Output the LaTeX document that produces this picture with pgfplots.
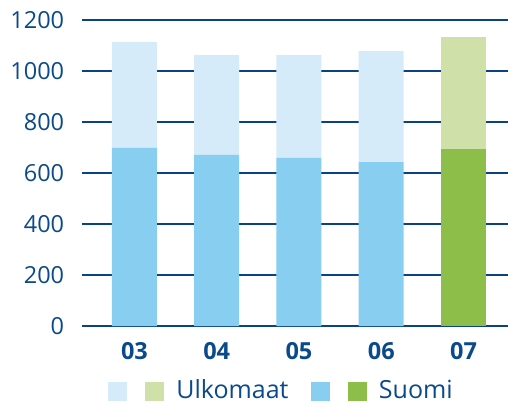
\documentclass[border=0pt]{standalone}
\usepackage{fontspec}
\setmainfont{Open Sans}
\usepackage{pgfplots}
\pgfplotsset{compat=1.18}
\definecolor{navy}{HTML}{0B4A8A}
\definecolor{gridnavy}{HTML}{0A4283}
\definecolor{suomiblue}{HTML}{87CEF0}
\definecolor{ulkoblue}{HTML}{D5EBF9}
\definecolor{suomigreen}{HTML}{8DBE4A}
\definecolor{ulkogreen}{HTML}{CFE0A9}
\begin{document}
\fontsize{23bp}{27bp}\selectfont
\begin{tikzpicture}
\begin{axis}[
  scale only axis, width=426bp, height=306bp,
  ybar stacked, bar width=45bp,
  xmin=-0.638, xmax=4.541, ymin=0, ymax=1200,
  xtick={0,1,2,3,4}, xticklabels={03,04,05,06,07},
  ytick={0,200,...,1200},
  axis line style={draw=none}, major tick length=0pt,
  ymajorgrids, grid style={color=gridnavy, line width=1.1pt},
  /pgf/number format/assume math mode=true,
  /pgf/number format/1000 sep={},
  tick label style={color=navy, font=\fontsize{23.5bp}{27bp}\selectfont},
  yticklabel style={xshift=-10bp},
  xticklabel style={font=\fontsize{23.5bp}{27bp}\selectfont\bfseries, yshift=-9bp},
  legend style={draw=none, fill=none, at={(0.468,-0.212)}, anchor=center,
    legend columns=-1, font=\fontsize{25bp}{29bp}\selectfont, text=navy,
    /tikz/every even column/.style={column sep=20bp}},
]
\addlegendimage{legend image code/.code={
  \fill[ulkoblue] (0bp,-9bp) rectangle (18bp,9bp);
  \fill[ulkogreen] (37bp,-9bp) rectangle (55bp,9bp);
  \path (66bp,0bp);}}
\addlegendimage{legend image code/.code={
  \fill[suomiblue] (0bp,-9bp) rectangle (18bp,9bp);
  \fill[suomigreen] (37bp,-9bp) rectangle (55bp,9bp);
  \path (66bp,0bp);}}
\addplot[fill=suomiblue, draw=none] coordinates {(0,699) (1,671) (2,659) (3,643) (4,0)};
\addplot[fill=suomigreen, draw=none] coordinates {(0,0) (1,0) (2,0) (3,0) (4,694)};
\addplot[fill=ulkoblue, draw=none] coordinates {(0,415) (1,392) (2,404) (3,435) (4,0)};
\addplot[fill=ulkogreen, draw=none] coordinates {(0,0) (1,0) (2,0) (3,0) (4,439)};
\legend{Ulkomaat,Suomi}
\end{axis}
\pgfresetboundingbox
\useasboundingbox ([xshift=-82bp,yshift=-79bp]current axis.south west) rectangle ([yshift=20bp]current axis.north east);
\end{tikzpicture}
\end{document}
